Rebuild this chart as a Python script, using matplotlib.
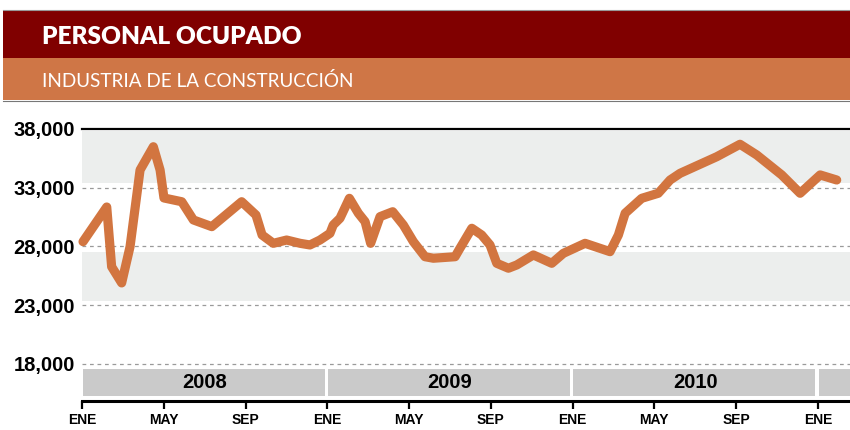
import matplotlib.pyplot as plt
from matplotlib.patches import Rectangle

# meses desde ENE 2008 (fraccion de mes) y personal ocupado
meses = [0.05, 1.21, 1.45, 1.94, 2.35, 2.84, 3.49, 3.82, 4.01, 4.88,
         5.45, 6.35, 7.81, 8.51, 8.81, 9.36, 10.01, 10.67, 11.15, 11.64,
         12.13, 12.29, 12.62, 13.08, 13.52, 13.85, 14.12, 14.58, 15.2, 15.72,
         16.21, 16.78, 17.19, 18.25, 18.49, 19.07, 19.55, 19.96, 20.29, 20.86,
         21.27, 22.08, 22.98, 23.55, 24.61, 25.83, 26.24, 26.57, 27.38, 28.19,
         28.77, 29.26, 31.05, 32.19, 33.01, 34.23, 35.13, 36.11, 36.92]
personal = [28410, 31360, 26280, 24900, 27980, 34510, 36490, 34510, 32130, 31810,
            30260, 29690, 31810, 30680, 28980, 28270, 28550, 28270, 28130, 28550,
            29120, 29830, 30400, 32100, 30830, 30110, 28270, 30540, 30960, 29830,
            28410, 27130, 27000, 27130, 27850, 29550, 28980, 28130, 26570, 26150,
            26430, 27280, 26570, 27420, 28270, 27560, 28980, 30830, 32100, 32530,
            33660, 34230, 35640, 36700, 35790, 34090, 32530, 34090, 33660]

y_ticks = [18000, 23000, 28000, 33000, 38000]
x_ticks = [0, 4, 8, 12, 16, 20, 24, 28, 32, 36]
x_labels = ['ENE', 'MAY', 'SEP', 'ENE', 'MAY', 'SEP', 'ENE', 'MAY', 'SEP', 'ENE']
years = ['2008', '2009', '2010', '']

titulo = 'PERSONAL OCUPADO'
subtitulo = 'INDUSTRIA DE LA CONSTRUCCIÓN'

W, H = 850, 430
fig = plt.figure(figsize=(W / 100, H / 100), dpi=100)


def fy(py):
    return 1 - py / H


# header
fig.add_artist(Rectangle((3 / W, fy(58)), 847 / W, 48 / H, transform=fig.transFigure,
                         facecolor='#800000', edgecolor='none'))
fig.add_artist(Rectangle((3 / W, fy(100)), 847 / W, 42 / H, transform=fig.transFigure,
                         facecolor='#cf7646', edgecolor='none'))
fig.add_artist(plt.Line2D([3 / W, 1], [fy(9.5), fy(9.5)], transform=fig.transFigure,
                          color='#999999', lw=0.8))
fig.add_artist(plt.Line2D([3 / W, 1], [fy(100.5), fy(100.5)], transform=fig.transFigure,
                          color='#777777', lw=0.8))
fig.text(42 / W, fy(44), titulo, color='white', fontsize=17.6, fontweight='heavy',
         family='Lato', va='baseline')
fig.text(42 / W, fy(87), subtitulo, color='white', fontsize=13.6,
         family='Lato', va='baseline')

ax = fig.add_axes([82 / W, fy(401), 768 / W, 272 / H])
ax.set_xlim(0, 37.57)
ax.set_ylim(14850, 38000)

# bandas grises
ax.axhspan(33420, 37850, color='#eceeed', lw=0, zorder=0)
ax.axhspan(23340, 27490, color='#eceeed', lw=0, zorder=0)
for v in y_ticks[:-1]:
    ax.axhline(v, color='#9a9a9a', lw=0.9, dashes=(3, 3), zorder=1)
ax.axhline(38000, color='black', lw=1.6, zorder=3, clip_on=False)

# barra de anios
ax.broken_barh([(12 * i + 0.03, 11.85) for i in range(len(years))], (15280, 2300),
               facecolors='#cacaca', edgecolors='none', zorder=1)
for i, yr in enumerate(years):
    ax.text(12 * i + 6, 16430, yr, ha='center', va='center', fontsize=14.5,
            fontweight='bold', family='Liberation Sans')

ax.plot(meses, personal, color='#d27540', lw=6.6, solid_capstyle='round',
        solid_joinstyle='round', zorder=4, clip_on=False)

for s in ['top', 'left', 'right']:
    ax.spines[s].set_visible(False)
ax.spines['bottom'].set_linewidth(2.2)

ax.set_yticks(y_ticks)
ax.set_yticklabels(['{:,}'.format(v) for v in y_ticks], fontsize=14.5,
                   fontweight='bold', family='Liberation Sans')
ax.tick_params(axis='y', length=0, pad=5)
ax.set_xticks(x_ticks)
ax.set_xticklabels(x_labels, fontsize=10, fontweight='bold', family='Liberation Sans')
ax.tick_params(axis='x', length=5.5, width=1.6, pad=3)

fig.savefig('out.png', dpi=100)
